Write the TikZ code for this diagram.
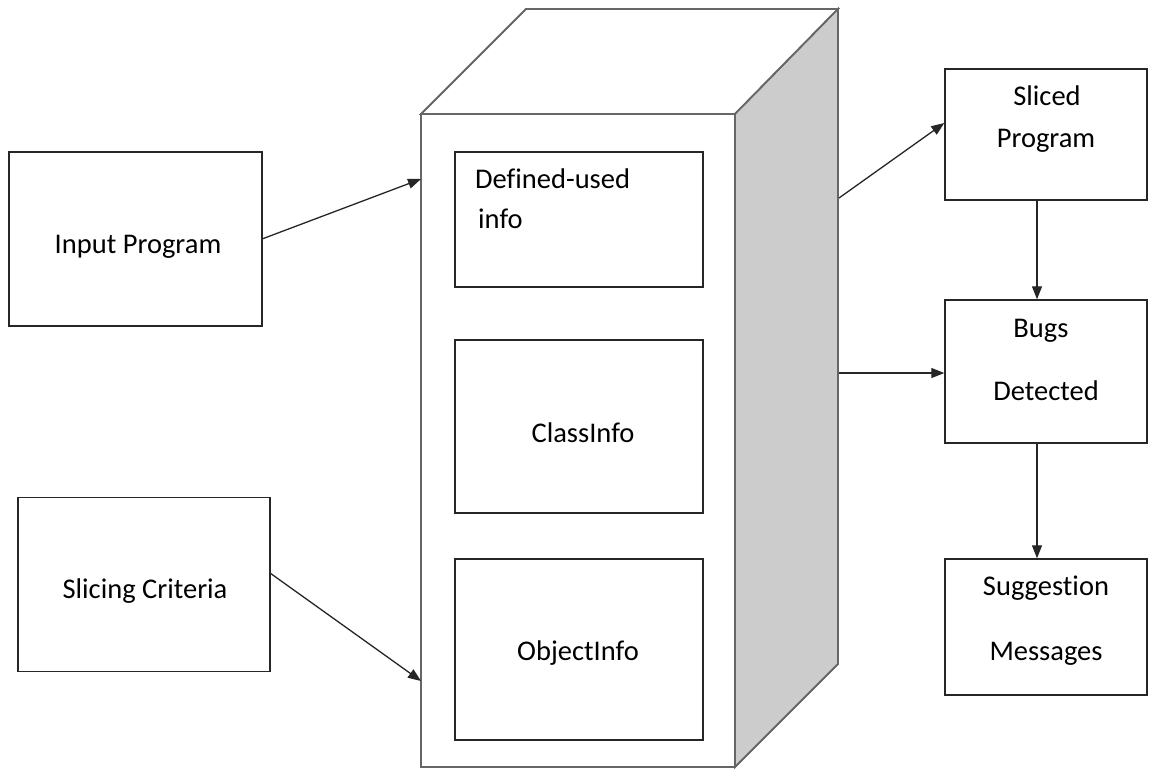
\documentclass[tikz,border=0pt]{standalone}
\usepackage{fontspec}
\setmainfont{Carlito}[Ligatures={NoCommon}]
\usetikzlibrary{arrows.meta}
\begin{document}
\begin{tikzpicture}[x=1pt,y=-1pt,
  box/.style={draw=black!85, line width=1.4pt, rectangle, inner sep=0pt},
  txt/.style={anchor=base, inner sep=0pt, font=\fontsize{28.5}{34}\selectfont, text=black},
  cubeline/.style={draw=black!60, line width=1.8pt, line join=miter},
  arr/.style={draw=black!85, line width=1.3pt, -{Triangle[length=13pt,width=10pt]}}]
\useasboundingbox (0,0) rectangle (1152,769);
\fill[white] (0,0) rectangle (1152,769);
% cube
\draw[cubeline, fill=white] (421,114) -- (526,9) -- (838,9) -- (735,114) -- cycle;
\draw[cubeline, fill=black!20] (735,114) -- (838,9) -- (838,664) -- (735,767) -- cycle;
\draw[cubeline, fill=white] (421,114) rectangle (735,767);
% inner boxes
\node[box, minimum width=248pt, minimum height=135pt] (du) at (579,219.5) {};
\node[box, minimum width=248pt, minimum height=173pt] (ci) at (579,426.5) {};
\node[box, minimum width=248pt, minimum height=181pt] (oi) at (579,649.5) {};
\node[txt, anchor=base west] (dut) at (475,188) {Defined-used};
\node[txt, anchor=base west] (dui) at (478,228) {info};
\node[txt] (cit) at (583,442) {ClassInfo};
\node[txt] (oit) at (578,660) {ObjectInfo};
% left boxes
\node[box, minimum width=253pt, minimum height=174pt] (inp) at (135.5,239) {};
\node[txt] (inpt) at (138,253) {Input Program};
\node[box, minimum width=252pt, minimum height=174pt] (slc) at (144,584.5) {};
\node[txt] (slct) at (145,598) {Slicing Criteria};
% right boxes
\node[box, minimum width=202pt, minimum height=131pt] (spg) at (1046,134.5) {};
\node[txt] (spg1) at (1047,105) {Sliced};
\node[txt] (spg2) at (1046,147) {Program};
\node[box, minimum width=202pt, minimum height=143pt] (bug) at (1046,371.5) {};
\node[txt] (bug1) at (1041,337) {Bugs};
\node[txt] (bug2) at (1046,400) {Detected};
\node[box, minimum width=202pt, minimum height=136pt] (sug) at (1046,627) {};
\node[txt] (sug1) at (1046,595) {Suggestion};
\node[txt] (sug2) at (1046,660) {Messages};
% connector coordinates on the cube
\coordinate (cin1) at (421,179);
\coordinate (cin2) at (421,681);
\coordinate (cout1) at (839,198);
\coordinate (cout2) at (839,373);
\coordinate (inpo) at (262,239);
\coordinate (slco) at (270,573);
% connectors
\draw[arr] (inpo) -- (cin1);
\draw[arr] (slco) -- (cin2);
\draw[arr] (cout1) -- (spg.west |- 0,123);
\draw[arr] (cout2) -- (bug.west |- 0,373);
\draw[arr] (spg.south -| 1037,0) -- (bug.north -| 1037,0);
\draw[arr] (bug.south -| 1037,0) -- (sug.north -| 1037,0);
\end{tikzpicture}
\end{document}
